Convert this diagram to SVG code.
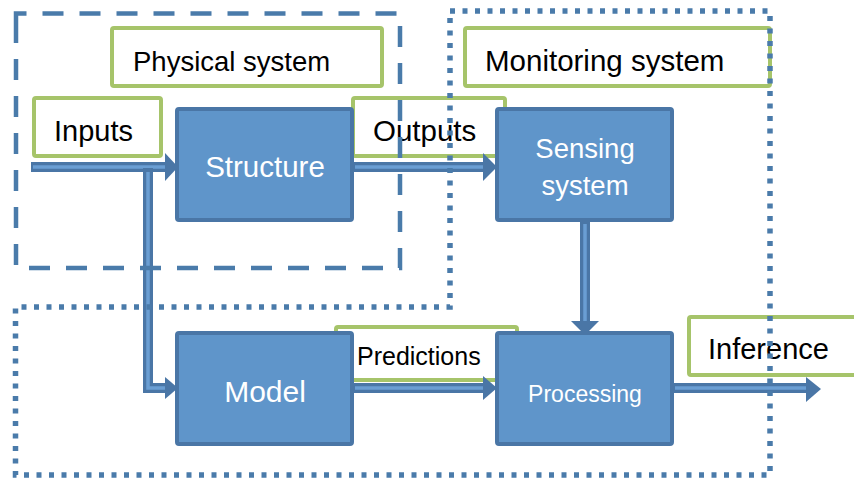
<svg xmlns="http://www.w3.org/2000/svg" width="854" height="481" viewBox="0 0 854 481">
<style>
.node rect{fill:#5F95CA;stroke:#4A76A6;stroke-width:4}
.label rect{fill:#FFFFFF;stroke:#A6C46A;stroke-width:4}
.lt{font-family:"Liberation Sans",Arial,sans-serif;font-size:28px;fill:#000}
.nt{font-family:"Liberation Sans",Arial,sans-serif;font-size:28px;fill:#FFFFFF;text-anchor:middle}
.sm{font-size:22.5px}
.shaft{fill:none;stroke:#4A76A6;stroke-width:10;stroke-linejoin:miter}
.inner{fill:none;stroke:#6A9ED3;stroke-width:3.5}
.head{fill:#4A76A6}
.bound{fill:none;stroke:#4A7BAA;stroke-width:4.5}
.dots{fill:none;stroke:#4A7BAA;stroke-width:5.5}
</style>

<!-- label boxes -->
<g id="label-physical" class="label"><rect x="112" y="28" width="270" height="58" rx="2"/><text class="lt" x="133" y="71" style="font-size:27.5px">Physical system</text></g>
<g id="label-monitoring" class="label"><rect x="465" y="28" width="305" height="58" rx="2"/><text class="lt" x="485" y="71" style="font-size:29.5px">Monitoring system</text></g>
<g id="label-inputs" class="label"><rect x="34" y="98" width="127" height="58" rx="2"/><text class="lt" x="54" y="141" style="font-size:29px">Inputs</text></g>
<g id="label-outputs" class="label"><rect x="353" y="98" width="152" height="58" rx="2"/><text class="lt" x="373" y="141" style="font-size:29.5px">Outputs</text></g>
<g id="label-predictions" class="label"><rect x="336" y="327" width="181" height="53" rx="2"/><text class="lt sm" x="357" y="365" style="font-size:25px">Predictions</text></g>
<g id="label-inference" class="label"><rect x="689" y="317" width="175" height="58" rx="2"/><text class="lt" x="708" y="359" style="font-size:29px">Inference</text></g>

<!-- nodes -->
<g id="structure" class="node"><rect x="177" y="109" width="175" height="111" rx="2"/><text class="nt" x="265" y="177" style="font-size:29.5px">Structure</text></g>
<g id="sensing" class="node"><rect x="497" y="109" width="175" height="111" rx="2"/><text class="nt" x="585" y="158" style="font-size:27.5px">Sensing</text><text class="nt" x="585" y="195" style="font-size:27.5px">system</text></g>
<g id="model" class="node"><rect x="177" y="333" width="175" height="111" rx="2"/><text class="nt" x="265" y="402" style="font-size:30px">Model</text></g>
<g id="processing" class="node"><rect x="497" y="333" width="175" height="111" rx="2"/><text class="nt sm" x="585" y="402" style="font-size:23px">Processing</text></g>

<!-- connectors -->
<g id="connectors">
  <path class="shaft" d="M31,167 H167"/>
  <path class="inner" d="M33,167 H167"/>
  <polygon class="head" points="165,153 178,167 165,181"/>
  <path class="shaft" d="M148,168 V388 H167"/>
  <path class="inner" d="M148,172 V388 H167"/>
  <polygon class="head" points="165,377 178,388 165,399"/>
  <path class="shaft" d="M353,167 H485"/>
  <path class="inner" d="M355,167 H485"/>
  <polygon class="head" points="483,153 497,167 483,181"/>
  <path class="shaft" d="M585,222 V323"/>
  <path class="inner" d="M585,224 V323"/>
  <polygon class="head" points="571,321 585,335 599,321"/>
  <path class="shaft" d="M353,388 H485"/>
  <path class="inner" d="M355,388 H485"/>
  <polygon class="head" points="483,376 497,388 483,400"/>
  <path class="shaft" d="M673,388 H808"/>
  <path class="inner" d="M675,388 H808"/>
  <polygon class="head" points="806,377 821,389 806,402"/>
</g>

<!-- boundaries -->
<g id="physical-boundary"><path class="bound" d="M16,24 V13.5 H400 V268 H16 Z" stroke-dasharray="21 16"/></g>
<g id="monitoring-boundary"><path class="dots" d="M450,11 H770 V475 H15.5 V307 H450 Z" stroke-dasharray="5 7.5"/></g>
</svg>
